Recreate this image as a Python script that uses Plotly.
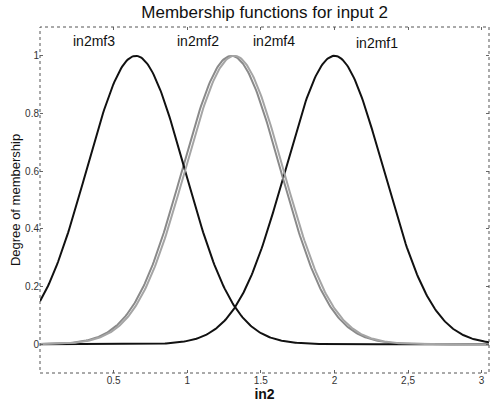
import numpy as np
import plotly.graph_objects as go

# membership function parameters (gaussmf: sigma, center)
mf_names = ["in2mf1", "in2mf2", "in2mf3", "in2mf4"]
mf_sigma = [0.333, 0.333, 0.333, 0.333]
mf_center = [2.0, 1.30, 0.65, 1.32]
mf_color = ["#111111", "#8a8a8a", "#111111", "#a5a5a5"]

# label positions as seen on the picture
label_x = [2.29, 1.07, 0.37, 1.59]
label_y = [1.045, 1.05, 1.05, 1.05]

x_range = [0, 3.05]
y_range = [-0.1, 1.1]
x_ticks = [0.5, 1, 1.5, 2, 2.5, 3]
y_ticks = [0, 0.2, 0.4, 0.6, 0.8, 1]

x = np.linspace(x_range[0], x_range[1], 400)

fig = go.Figure()
for name, s, c, col in zip(mf_names, mf_sigma, mf_center, mf_color):
    y = np.exp(-(x - c) ** 2 / (2 * s ** 2))
    fig.add_trace(go.Scatter(x=x, y=y, mode="lines", name=name,
                             line=dict(color=col, width=2)))

for name, lx, ly in zip(mf_names, label_x, label_y):
    fig.add_annotation(x=lx, y=ly, text=name, showarrow=False,
                       font=dict(family="Liberation Sans", size=14, color="#111"))

# dotted axes box, MATLAB style
fig.add_shape(type="rect", xref="paper", yref="paper", x0=0, y0=0, x1=1, y1=1,
              line=dict(color="#555", width=1, dash="dot"))

fig.update_layout(
    width=490, height=408,
    margin=dict(l=40, r=1, t=27, b=35),
    paper_bgcolor="white", plot_bgcolor="white",
    showlegend=False,
    title=dict(text="Membership functions for input 2", x=0.54, xanchor="center",
               y=0.97, yanchor="middle",
               font=dict(family="Liberation Sans", size=17, color="#111")),
    font=dict(family="Liberation Sans", color="#333"),
)
fig.update_xaxes(range=x_range, tickvals=x_ticks, ticktext=["0.5", "1", "1.5", "2", "2,5", "3"],
                 showgrid=False, zeroline=False, showline=False, automargin=False,
                 ticks="inside", ticklen=3, tickcolor="#666", mirror="ticks",
                 tickfont=dict(size=10, color="#333"),
                 title=dict(text="<b>in2</b>", standoff=0,
                            font=dict(family="Liberation Sans", size=14, color="#111")))
fig.update_yaxes(range=y_range, tickvals=y_ticks, ticktext=["0", "0.2", "0.4", "0.6", "0.8", "1"],
                 showgrid=False, zeroline=False, showline=False, automargin=False,
                 ticks="inside", ticklen=3, tickcolor="#666", mirror="ticks",
                 tickfont=dict(size=10, color="#333"),
                 title=dict(text="Degree of membership", standoff=1,
                            font=dict(family="Liberation Sans", size=13, color="#111")))

# drop the default 8px body margin so the figure fills the window
fig.write_html("out.html", config={"displayModeBar": False},
               post_script="document.body.style.margin='0';")
